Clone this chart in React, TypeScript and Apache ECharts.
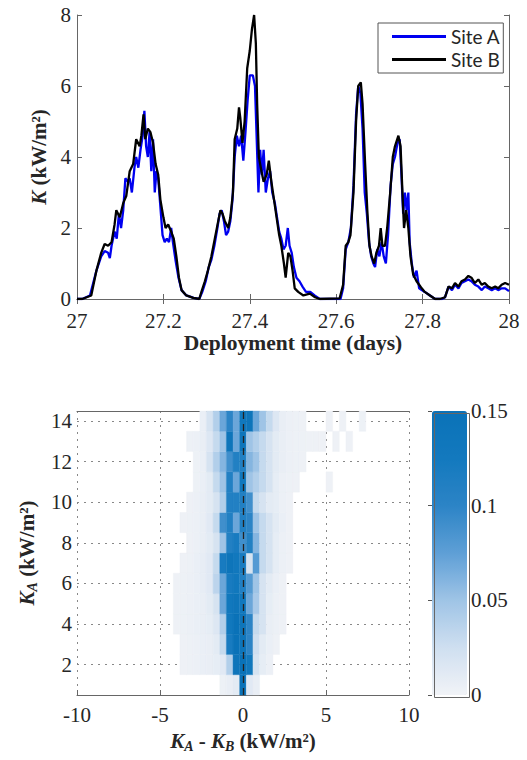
import React, { useEffect, useRef } from 'react';
import * as echarts from 'echarts';

// ---- Top panel: K time series (days, kW/m^2) ----
const siteA: [number, number][] = [
  [27.0, 0], [27.012, 0], [27.03, 0.1], [27.045, 0.8], [27.056, 1.2], [27.064, 1.35], [27.072, 1.3], [27.076, 1.15],
  [27.08, 1.5], [27.087, 1.9], [27.092, 1.7], [27.097, 2.4], [27.102, 2.0], [27.107, 2.5], [27.112, 3.4], [27.118, 3.3],
  [27.122, 3.4], [27.127, 3.0], [27.133, 3.7], [27.137, 4.0], [27.142, 3.7], [27.147, 4.2], [27.152, 4.6], [27.156, 5.3],
  [27.16, 4.3], [27.164, 4.0], [27.168, 4.7], [27.172, 3.6], [27.176, 4.5], [27.18, 3.0], [27.184, 3.6], [27.188, 3.4],
  [27.193, 2.6], [27.198, 1.8], [27.203, 1.6], [27.208, 1.7], [27.213, 1.6], [27.218, 2.0], [27.222, 1.6], [27.228, 1.1],
  [27.235, 0.6], [27.242, 0.25], [27.253, 0.1], [27.27, 0.03], [27.283, 0],
  [27.29, 0.2], [27.298, 0.5], [27.305, 0.9], [27.311, 1.1], [27.318, 1.5], [27.325, 2.0], [27.33, 2.4], [27.335, 2.5],
  [27.34, 2.2], [27.345, 1.8], [27.35, 1.9], [27.355, 2.2], [27.36, 2.8], [27.365, 4.0], [27.37, 4.6], [27.375, 4.3],
  [27.38, 4.6], [27.385, 3.9], [27.39, 4.7], [27.395, 5.6], [27.4, 6.3], [27.407, 6.3], [27.412, 6.0], [27.416, 4.5],
  [27.42, 3.0], [27.424, 4.2], [27.428, 3.5], [27.432, 4.2], [27.437, 3.0], [27.442, 3.4], [27.447, 3.6], [27.452, 3.0],
  [27.458, 2.7], [27.463, 2.3], [27.468, 1.9], [27.473, 1.7], [27.478, 1.4], [27.483, 1.5], [27.488, 2.0], [27.492, 1.5],
  [27.497, 1.3], [27.502, 0.9], [27.508, 0.6], [27.515, 0.5], [27.522, 0.35], [27.53, 0.2], [27.54, 0.2], [27.55, 0.1],
  [27.562, 0], [27.61, 0], [27.616, 0.3], [27.622, 1.4], [27.628, 1.6], [27.634, 2.0], [27.64, 3.2], [27.646, 5.2],
  [27.651, 6.0], [27.656, 5.8], [27.661, 4.8], [27.666, 3.0], [27.671, 2.4], [27.676, 1.6], [27.681, 1.2], [27.686, 1.0],
  [27.69, 0.9], [27.695, 1.4], [27.7, 1.2], [27.705, 1.6], [27.71, 1.2], [27.715, 1.0], [27.72, 1.8], [27.726, 3.2],
  [27.731, 3.8], [27.736, 4.0], [27.742, 4.4], [27.747, 4.5], [27.751, 3.5], [27.755, 2.4], [27.759, 3.0], [27.763, 2.5],
  [27.767, 3.0], [27.77, 1.6], [27.775, 1.0], [27.78, 0.6], [27.786, 0.8], [27.792, 0.3], [27.798, 0.25], [27.805, 0.2],
  [27.817, 0.1], [27.829, 0], [27.845, 0], [27.852, 0.05], [27.86, 0.35], [27.868, 0.25], [27.875, 0.4], [27.883, 0.3],
  [27.89, 0.45], [27.898, 0.5], [27.906, 0.55], [27.913, 0.5], [27.921, 0.4], [27.929, 0.35], [27.937, 0.25], [27.944, 0.35],
  [27.952, 0.3], [27.96, 0.25], [27.968, 0.3], [27.975, 0.25], [27.983, 0.3], [27.991, 0.3], [28.0, 0.22],
];

const siteB: [number, number][] = [
  [27.0, 0], [27.012, 0], [27.033, 0.1], [27.045, 0.8], [27.056, 1.3], [27.064, 1.55], [27.072, 1.5], [27.08, 1.6],
  [27.087, 2.1], [27.091, 2.5], [27.099, 2.3], [27.107, 2.7], [27.114, 2.9], [27.122, 3.6], [27.13, 3.8], [27.137, 4.5],
  [27.145, 4.3], [27.149, 4.6], [27.154, 5.2], [27.158, 4.5], [27.164, 4.8], [27.17, 4.7], [27.176, 4.4], [27.182, 3.8],
  [27.188, 3.5], [27.193, 2.8], [27.2, 2.3], [27.205, 2.0], [27.211, 2.1], [27.218, 1.9], [27.224, 1.7], [27.23, 1.2],
  [27.236, 0.6], [27.242, 0.25], [27.253, 0.1], [27.269, 0.03], [27.283, 0],
  [27.288, 0.2], [27.296, 0.5], [27.303, 0.8], [27.311, 1.2], [27.319, 1.7], [27.327, 2.2], [27.332, 2.5], [27.337, 2.4],
  [27.342, 2.2], [27.35, 2.0], [27.355, 2.3], [27.361, 3.0], [27.365, 4.5], [27.371, 4.8], [27.375, 5.4], [27.378, 5.1],
  [27.383, 4.4], [27.388, 5.0], [27.394, 6.5], [27.4, 7.0], [27.405, 7.6], [27.41, 8.0], [27.414, 7.2], [27.417, 5.5],
  [27.421, 4.0], [27.427, 3.6], [27.432, 3.3], [27.439, 3.5], [27.444, 3.9], [27.45, 3.3], [27.456, 2.8], [27.462, 2.3],
  [27.468, 1.8], [27.473, 1.5], [27.479, 1.0], [27.483, 0.6], [27.489, 1.3], [27.494, 1.2], [27.499, 0.8], [27.504, 0.3],
  [27.512, 0.2], [27.524, 0.1], [27.539, 0.15], [27.551, 0.05], [27.562, 0], [27.608, 0.02], [27.616, 0.4], [27.622, 1.5],
  [27.628, 1.6], [27.633, 1.8], [27.64, 3.0], [27.646, 5.0], [27.651, 6.0], [27.657, 6.1], [27.661, 5.5], [27.667, 3.8],
  [27.672, 2.5], [27.677, 1.5], [27.682, 1.2], [27.688, 1.0], [27.693, 1.3], [27.699, 1.5], [27.703, 2.0], [27.707, 1.5],
  [27.713, 1.5], [27.718, 2.0], [27.725, 3.0], [27.731, 4.0], [27.736, 4.3], [27.744, 4.6], [27.749, 4.3], [27.754, 2.8],
  [27.757, 2.0], [27.762, 2.5], [27.767, 2.0], [27.772, 1.2], [27.778, 0.7], [27.786, 0.5], [27.792, 0.4], [27.798, 0.3],
  [27.805, 0.2], [27.817, 0.1], [27.829, 0], [27.84, 0], [27.852, 0.05], [27.86, 0.35], [27.868, 0.3], [27.875, 0.45],
  [27.883, 0.35], [27.89, 0.5], [27.898, 0.55], [27.906, 0.65], [27.913, 0.6], [27.921, 0.45], [27.929, 0.55], [27.937, 0.4],
  [27.944, 0.45], [27.952, 0.35], [27.96, 0.3], [27.968, 0.35], [27.975, 0.3], [27.983, 0.4], [27.991, 0.45], [28.0, 0.4],
];

// ---- Bottom panel: normalised histogram of K_A - K_B per K_A bin ----
const diffCenters = [-4.4, -4.0, -3.6, -3.2, -2.8, -2.4, -2.0, -1.6, -1.2, -0.8, -0.4, 0, 0.4, 0.8, 1.2, 1.6, 2.0, 2.4, 2.8, 3.2, 3.6, 4.0, 4.4];
const kaCenters = [1, 2, 3, 4, 5, 6, 7, 8, 9, 10, 11, 12, 13, 14];
const binWidth = 0.4;
const binHeight = 1;
const heatRows: number[][] = [
  [0, 0, 0, 0, 0, 0, 0, 0, 0.003, 0.006, 0.01, 0.15, 0.012, 0.006, 0, 0, 0, 0, 0, 0, 0, 0, 0],
  [0, 0, 0.002, 0.003, 0.004, 0.005, 0.006, 0.008, 0.012, 0.04, 0.14, 0.15, 0.13, 0.02, 0.008, 0.004, 0, 0, 0, 0, 0, 0, 0],
  [0, 0, 0.002, 0.003, 0.004, 0.005, 0.006, 0.01, 0.03, 0.12, 0.15, 0.14, 0.1, 0.025, 0.01, 0.005, 0.002, 0, 0, 0, 0, 0, 0],
  [0, 0.002, 0.003, 0.004, 0.005, 0.006, 0.008, 0.015, 0.04, 0.13, 0.15, 0.14, 0.1, 0.03, 0.02, 0.006, 0.004, 0.002, 0, 0, 0, 0, 0],
  [0, 0.002, 0.003, 0.004, 0.005, 0.006, 0.01, 0.02, 0.07, 0.13, 0.14, 0.13, 0.07, 0.045, 0.02, 0.008, 0.004, 0.002, 0, 0, 0, 0, 0],
  [0, 0.002, 0.003, 0.004, 0.005, 0.007, 0.012, 0.035, 0.07, 0.12, 0.13, 0.11, 0.08, 0.05, 0.02, 0.01, 0.005, 0.002, 0, 0, 0, 0, 0],
  [0, 0, 0.002, 0.003, 0.005, 0.007, 0.012, 0.03, 0.12, 0.14, 0.13, 0.12, 0.02, 0.08, 0.03, 0.02, 0.008, 0.004, 0.002, 0, 0, 0, 0],
  [0, 0, 0, 0.002, 0.004, 0.006, 0.01, 0.02, 0.05, 0.11, 0.12, 0.09, 0.11, 0.06, 0.03, 0.02, 0.008, 0.004, 0.002, 0, 0, 0, 0],
  [0, 0, 0.002, 0.003, 0.004, 0.006, 0.012, 0.03, 0.09, 0.11, 0.07, 0.11, 0.1, 0.05, 0.03, 0.02, 0.01, 0.005, 0.002, 0, 0, 0, 0],
  [0, 0, 0, 0.002, 0.004, 0.006, 0.01, 0.02, 0.04, 0.11, 0.11, 0.11, 0.09, 0.03, 0.02, 0.01, 0.008, 0.004, 0.002, 0, 0, 0, 0],
  [0, 0, 0, 0, 0.003, 0.005, 0.01, 0.03, 0.05, 0.11, 0.07, 0.13, 0.05, 0.04, 0.03, 0.02, 0.008, 0.004, 0.003, 0.002, 0, 0, 0],
  [0, 0, 0, 0, 0.003, 0.005, 0.02, 0.04, 0.06, 0.09, 0.11, 0.11, 0.06, 0.05, 0.03, 0.02, 0.01, 0.006, 0.004, 0.003, 0.002, 0, 0],
  [0, 0, 0, 0.003, 0.004, 0.006, 0.015, 0.03, 0.05, 0.14, 0.07, 0.14, 0.05, 0.04, 0.03, 0.02, 0.01, 0.006, 0.004, 0.003, 0.003, 0.002, 0.002],
  [0, 0, 0, 0, 0, 0.005, 0.02, 0.04, 0.07, 0.1, 0.07, 0.13, 0.14, 0.07, 0.05, 0.03, 0.015, 0.006, 0.004, 0.003, 0.002, 0, 0],
];
const outlierCells: [number, number, number][] = [
  [5.2, 11, 0.002], [4.8, 13, 0.002], [5.6, 13, 0.002], [6.4, 13, 0.002], [5.2, 14, 0.002], [6.0, 14, 0.002], [7.2, 14, 0.003],
];
const colorStops = ['#f1f3f7', '#cfdff0', '#9fc4e6', '#5e9fd6', '#2c84c6', '#1379be', '#0a72b8'];

const FONT = '"Liberation Serif", "DejaVu Serif", serif';
const LEGEND_FONT = 'Lato, "Open Sans", sans-serif';
const TXT = '#262626';

export default function App() {
  const ref = useRef<HTMLDivElement>(null);
  useEffect(() => {
    if (!ref.current) return;
    const chart = echarts.init(ref.current, undefined, { renderer: 'svg' });

    const heatData: [number, number, number][] = [];
    heatRows.forEach((row, i) => {
      row.forEach((v, j) => {
        if (v > 0) heatData.push([diffCenters[j], kaCenters[i], v]);
      });
    });
    outlierCells.forEach((c) => heatData.push(c));

    const tickLabel = { fontFamily: FONT, fontSize: 21, color: TXT };
    const boxLine = { show: true, lineStyle: { color: '#666', width: 1 } };
    const inTick = { show: true, inside: true, length: 5, lineStyle: { color: '#666' } };
    const nameRich = {
      b: { fontFamily: FONT, fontSize: 21, fontWeight: 'bold', color: TXT },
      i: { fontFamily: FONT, fontSize: 21, fontWeight: 'bold', fontStyle: 'italic', color: TXT },
      s: { fontFamily: FONT, fontSize: 14, fontWeight: 'bold', fontStyle: 'italic', color: TXT, verticalAlign: 'bottom', padding: [10, 0, 0, 0] },
    };

    chart.setOption({
      animation: false,
      backgroundColor: '#fff',
      grid: [
        { left: 77, top: 15, width: 432, height: 284 },
        { left: 77, top: 411, width: 332, height: 284 },
        { left: 432, top: 411, width: 35, height: 284 },
      ],
      legend: {
        data: ['Site A', 'Site B'],
        orient: 'vertical',
        left: 378,
        top: 23,
        padding: [4, 3, 4, 14],
        itemGap: 4,
        itemWidth: 54,
        itemHeight: 3,
        icon: 'rect',
        backgroundColor: '#fff',
        borderColor: '#555',
        borderWidth: 1,
        borderRadius: 0,
        textStyle: { fontFamily: LEGEND_FONT, fontSize: 19, color: TXT },
      },
      xAxis: [
        {
          gridIndex: 0, type: 'value', min: 27, max: 28, interval: 0.2,
          axisLine: boxLine, axisTick: inTick, splitLine: { show: false },
          axisLabel: { ...tickLabel, margin: 11 },
          name: 'Deployment time (days)', nameLocation: 'middle', nameGap: 31,
          nameTextStyle: { fontFamily: FONT, fontSize: 21.5, fontWeight: 'bold', color: TXT },
        },
        {
          gridIndex: 0, type: 'value', min: 27, max: 28, interval: 0.2, position: 'top',
          axisLine: boxLine, axisTick: inTick, axisLabel: { show: false }, splitLine: { show: false },
        },
        {
          gridIndex: 1, type: 'value', min: -10, max: 10, interval: 5,
          axisLine: boxLine, axisTick: inTick,
          splitLine: { show: true, lineStyle: { type: [2, 5], color: '#888', width: 1 } },
          axisLabel: { ...tickLabel, margin: 9 },
          name: '{i|K}{s|A}{b| - }{i|K}{s|B}{b| (kW/m²)}', nameLocation: 'middle', nameGap: 34,
          nameTextStyle: { rich: nameRich },
        },
        {
          gridIndex: 1, type: 'value', min: -10, max: 10, interval: 5, position: 'top',
          axisLine: boxLine, axisTick: { show: false }, axisLabel: { show: false }, splitLine: { show: false },
        },
        {
          gridIndex: 2, type: 'value', min: 0, max: 1, show: false,
        },
      ],
      yAxis: [
        {
          gridIndex: 0, type: 'value', min: 0, max: 8, interval: 2,
          axisLine: boxLine, axisTick: inTick, splitLine: { show: false },
          axisLabel: { ...tickLabel, margin: 6 },
          name: '{i|K}{b| (kW/m²)}', nameLocation: 'middle', nameGap: 24,
          nameTextStyle: { rich: nameRich },
        },
        {
          gridIndex: 0, type: 'value', min: 0, max: 8, interval: 2, position: 'right',
          axisLine: boxLine, axisTick: inTick, axisLabel: { show: false }, splitLine: { show: false },
        },
        {
          gridIndex: 1, type: 'value', min: 0.5, max: 14.5, splitNumber: 7,
          axisLine: boxLine, axisTick: { show: false },
          splitLine: { show: true, lineStyle: { type: [2, 5], color: '#888', width: 1 } },
          axisLabel: {
            ...tickLabel, margin: 5,
            formatter: (v: number) => (Math.abs(v - Math.round(v)) < 1e-6 ? String(Math.round(v)) : ''),
          },
          name: '{i|K}{s|A}{b| (kW/m²)}', nameLocation: 'middle', nameGap: 38,
          nameTextStyle: { rich: nameRich },
        },
        {
          gridIndex: 1, type: 'value', min: 0.5, max: 14.5, splitNumber: 7, position: 'right',
          axisLine: boxLine, axisTick: { show: false }, axisLabel: { show: false }, splitLine: { show: false },
        },
        {
          gridIndex: 2, type: 'value', min: 0, max: 0.15, interval: 0.05, position: 'right',
          axisLine: { show: false },
          axisTick: { show: true, inside: true, length: 4, lineStyle: { color: '#555' } },
          splitLine: { show: false },
          axisLabel: { ...tickLabel, fontSize: 21, margin: 4 },
        },
      ],
      visualMap: {
        type: 'continuous',
        seriesIndex: 2,
        dimension: 2,
        min: 0,
        max: 0.15,
        calculable: false,
        hoverLink: false,
        inRange: { color: colorStops },
        left: 432,
        top: 411,
        padding: 0,
        itemWidth: 35,
        itemHeight: 284,
        text: null,
        showLabel: false,
      },
      graphic: [
        {
          type: 'rect', left: 432, top: 411, z: 100, silent: true,
          shape: { width: 35, height: 284 },
          style: { fill: 'none', stroke: '#666', lineWidth: 1 },
        },
      ],
      series: [
        {
          name: 'Site A', type: 'line', xAxisIndex: 0, yAxisIndex: 0, data: siteA,
          showSymbol: false, lineStyle: { color: '#0000f0', width: 2.3 }, itemStyle: { color: '#0000f0' },
        },
        {
          name: 'Site B', type: 'line', xAxisIndex: 0, yAxisIndex: 0, data: siteB,
          showSymbol: false, lineStyle: { color: '#000', width: 2.3 }, itemStyle: { color: '#000' },
        },
        {
          type: 'custom', xAxisIndex: 2, yAxisIndex: 2, data: heatData,
          encode: { x: 0, y: 1 },
          renderItem: (params: any, api: any) => {
            const x = api.value(0);
            const y = api.value(1);
            const p1 = api.coord([x - binWidth / 2, y + binHeight / 2]);
            const p2 = api.coord([x + binWidth / 2, y - binHeight / 2]);
            const c = api.visual('color');
            return {
              type: 'rect',
              shape: { x: p1[0], y: p1[1], width: p2[0] - p1[0], height: p2[1] - p1[1] },
              style: { fill: c, stroke: c, lineWidth: 0.4 },
            };
          },
          markLine: {
            silent: true, symbol: 'none', label: { show: false },
            lineStyle: { color: '#222', type: [7, 5], width: 1.3 },
            data: [{ xAxis: 0 }],
          },
        },
      ],
    });

    return () => chart.dispose();
  }, []);

  return (
    <div
      ref={ref}
      style={{ position: 'fixed', left: 0, top: 0, width: 527, height: 760, background: '#fff' }}
    />
  );
}
